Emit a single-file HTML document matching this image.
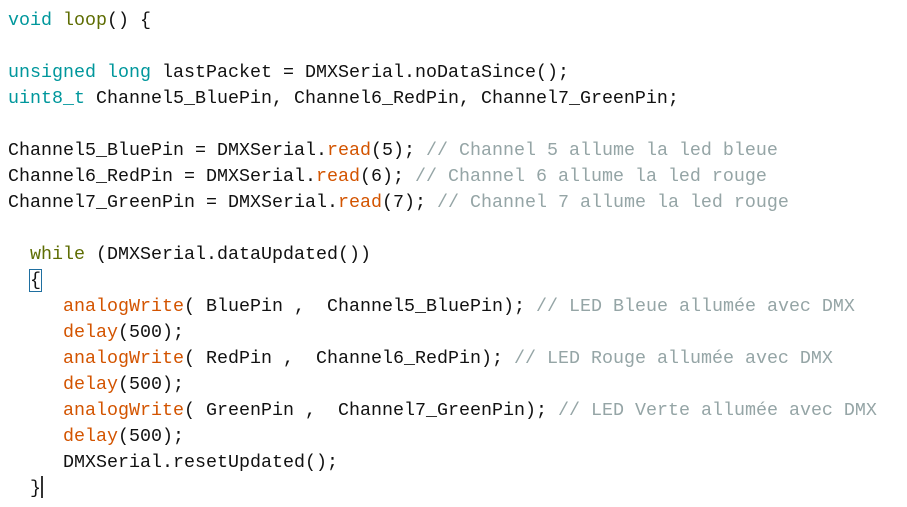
<!DOCTYPE html>
<html><head><meta charset="utf-8"><style>
html,body{margin:0;padding:0;background:#fff;width:907px;height:507px;overflow:hidden}
pre{margin:0;position:absolute;left:8px;top:8px;font-family:"Liberation Mono",monospace;font-size:18.33px;line-height:26px;color:#111}
.k{color:#00979c}.o{color:#5e6d03}.f{color:#d35400}.c{color:#95a5a6}
.b{outline:1.5px solid #1f6fa0;outline-offset:0}
.cur{display:inline-block;width:2px;height:22px;background:#333;vertical-align:-5px}
</style></head><body><pre><span class="k">void</span> <span class="o">loop</span>() {

<span class="k">unsigned</span> <span class="k">long</span> lastPacket = DMXSerial.noDataSince();
<span class="k">uint8_t</span> Channel5_BluePin, Channel6_RedPin, Channel7_GreenPin;

Channel5_BluePin = DMXSerial.<span class="f">read</span>(5); <span class="c">// Channel 5 allume la led bleue</span>
Channel6_RedPin = DMXSerial.<span class="f">read</span>(6); <span class="c">// Channel 6 allume la led rouge</span>
Channel7_GreenPin = DMXSerial.<span class="f">read</span>(7); <span class="c">// Channel 7 allume la led rouge</span>

  <span class="o">while</span> (DMXSerial.dataUpdated())
  <span class="b">{</span>
     <span class="f">analogWrite</span>( BluePin ,  Channel5_BluePin); <span class="c">// LED Bleue allumée avec DMX</span>
     <span class="f">delay</span>(500);
     <span class="f">analogWrite</span>( RedPin ,  Channel6_RedPin); <span class="c">// LED Rouge allumée avec DMX</span>
     <span class="f">delay</span>(500);
     <span class="f">analogWrite</span>( GreenPin ,  Channel7_GreenPin); <span class="c">// LED Verte allumée avec DMX</span>
     <span class="f">delay</span>(500);
     DMXSerial.resetUpdated();
  }<span class="cur"></span></pre></body></html>
